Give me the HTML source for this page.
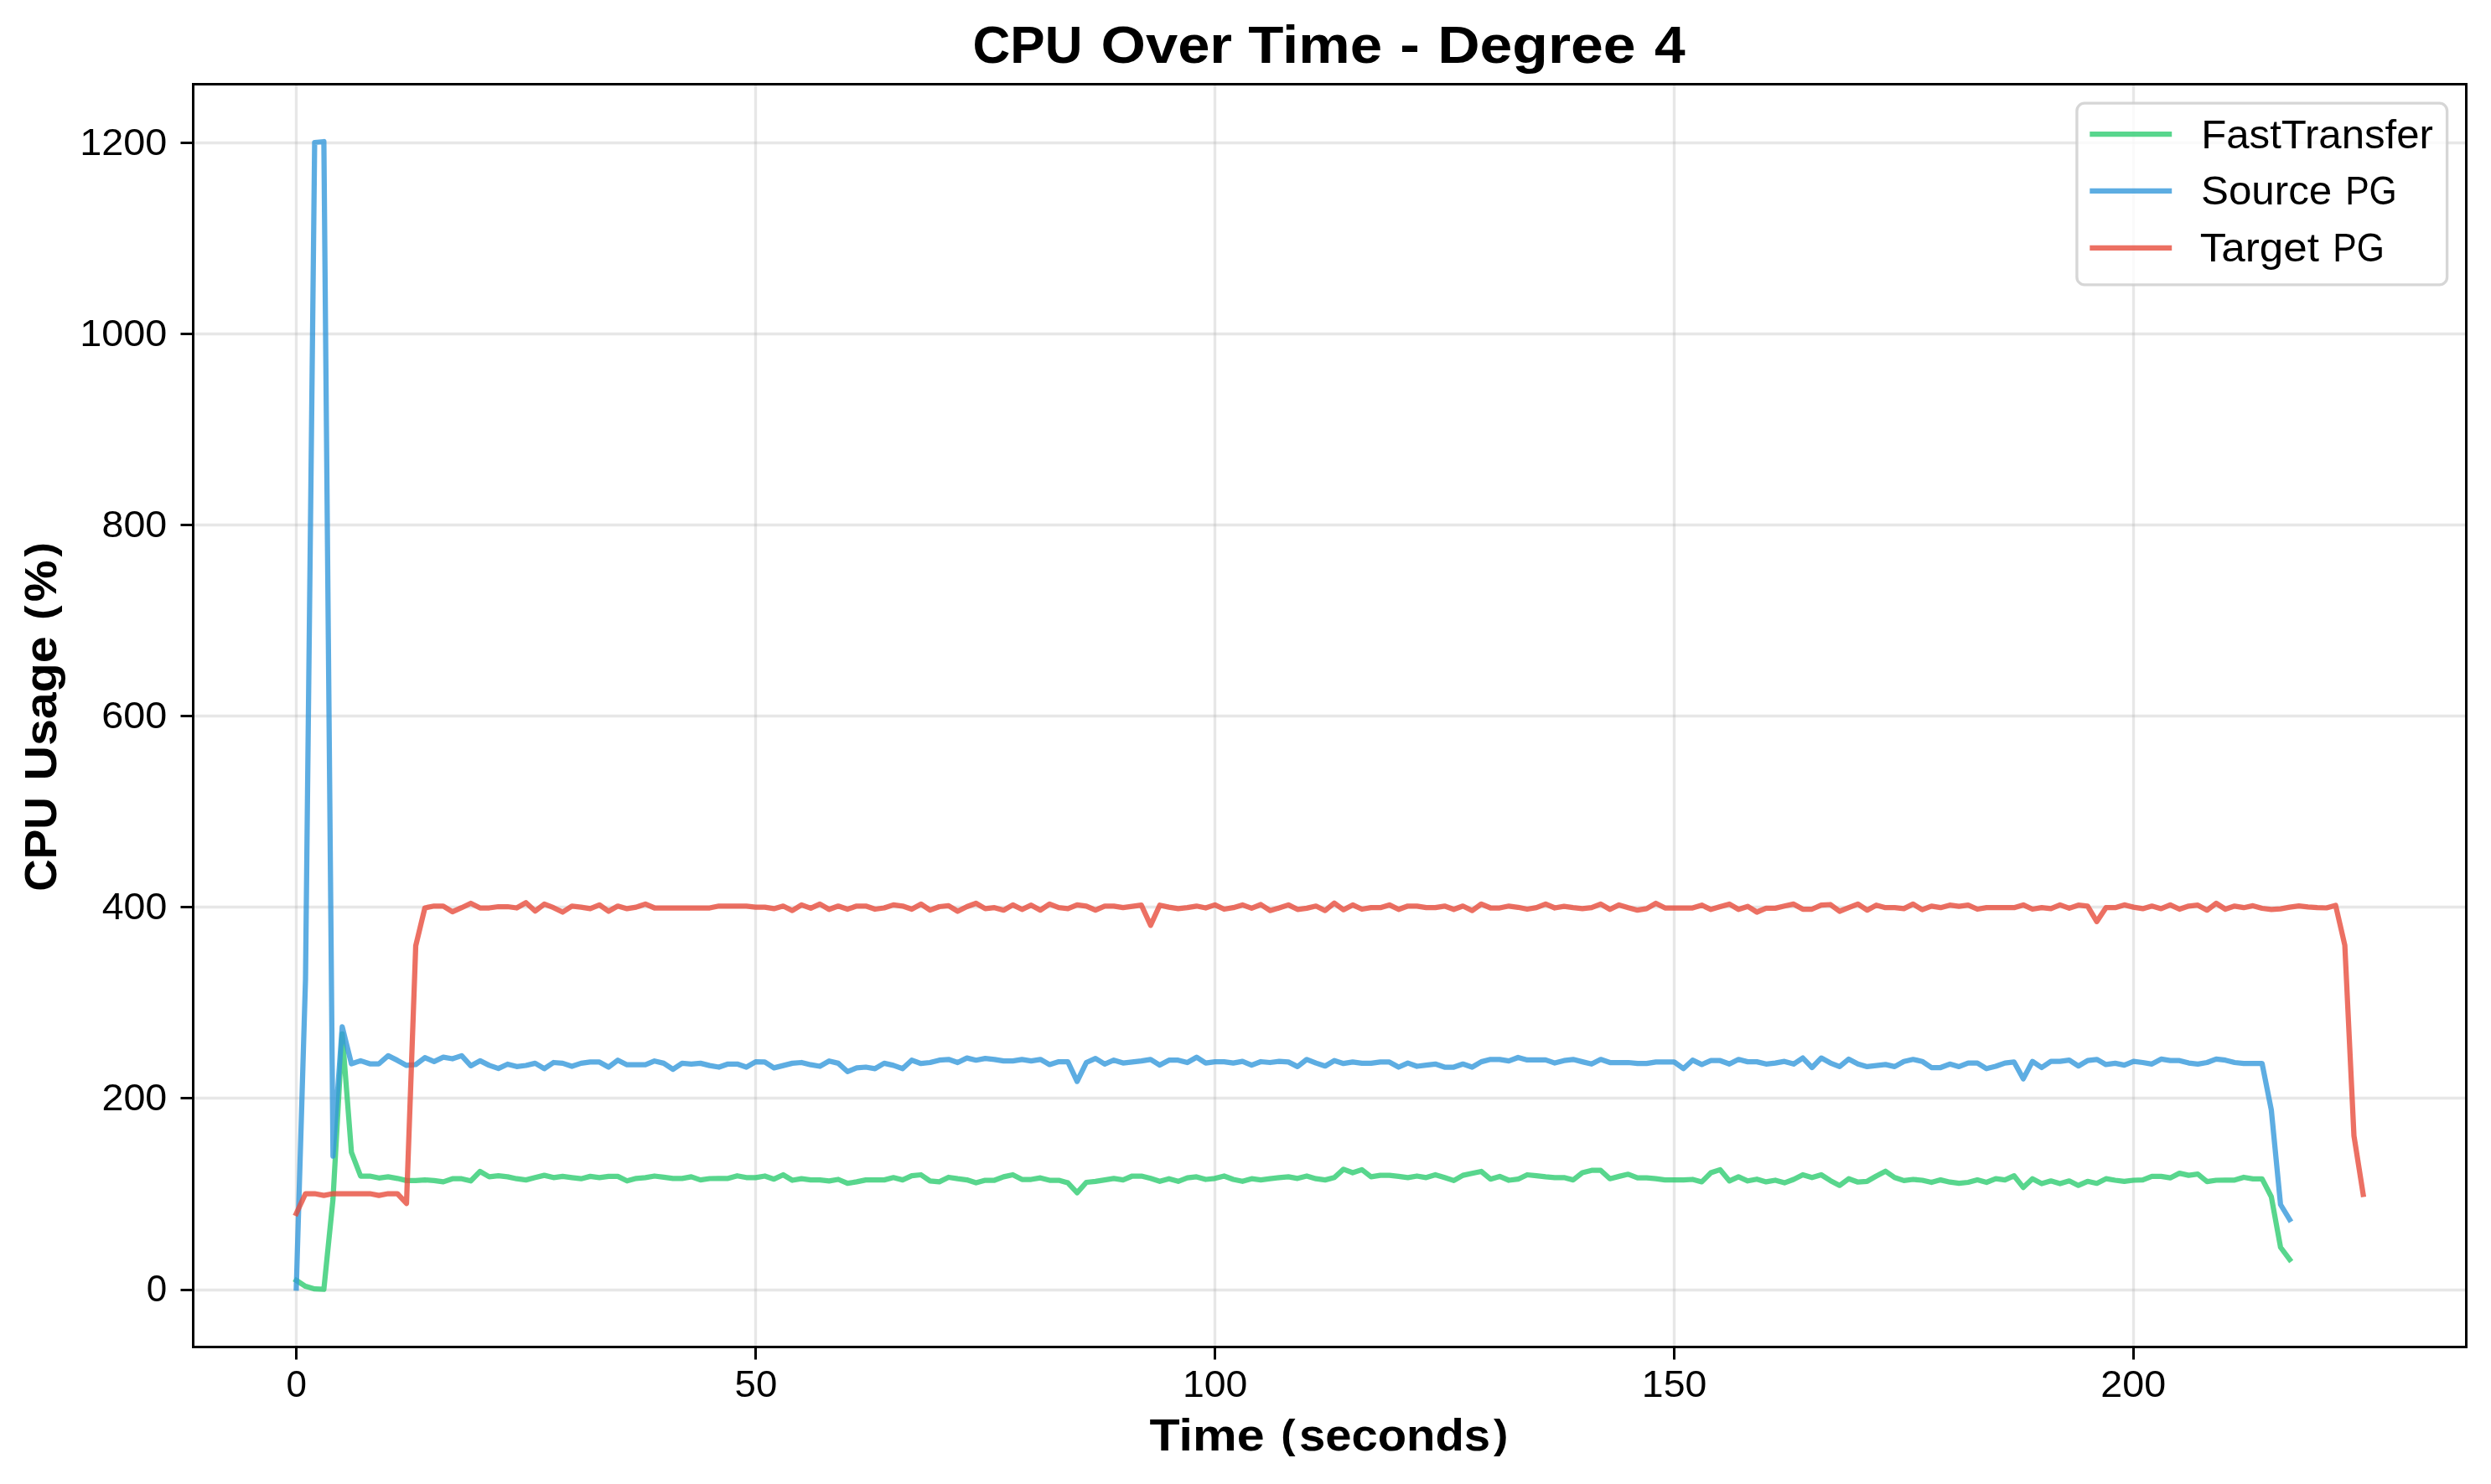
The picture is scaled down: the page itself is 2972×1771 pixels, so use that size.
<!DOCTYPE html>
<html><head><meta charset="utf-8"><title>CPU Over Time - Degree 4</title><style>html,body{margin:0;padding:0;background:#fff;overflow:hidden}svg{display:block;will-change:transform}text{font-family:"Liberation Sans",sans-serif;fill:#000}</style></head><body>
<svg width="2972" height="1771" viewBox="0 0 2972 1771">
<rect x="0" y="0" width="2972" height="1771" fill="#fff"/>
<defs><clipPath id="ax"><rect x="230.50" y="100.50" width="2712.00" height="1507.00"/></clipPath></defs>
<g fill="none" stroke="#b0b0b0" stroke-opacity="0.3" stroke-width="3.333"><path d="M230.5 1539.5H2942.5"/><path d="M230.5 1310.5H2942.5"/><path d="M230.5 1082.5H2942.5"/><path d="M230.5 854.5H2942.5"/><path d="M230.5 626.5H2942.5"/><path d="M230.5 398.5H2942.5"/><path d="M230.5 170.5H2942.5"/><path d="M353.5 100.5V1607.5"/><path d="M901.5 100.5V1607.5"/><path d="M1449.5 100.5V1607.5"/><path d="M1997.5 100.5V1607.5"/><path d="M2545.5 100.5V1607.5"/></g>
<g clip-path="url(#ax)" fill="none" stroke-width="6.25" stroke-linejoin="round" stroke-linecap="square" stroke-opacity="0.8">
<path d="M353.5 1528.0 L364.5 1535.1 L375.4 1538.2 L386.4 1538.7 L397.3 1431.1 L408.3 1233.8 L419.3 1375.2 L430.2 1403.5 L441.2 1403.5 L452.1 1405.8 L463.1 1404.4 L474.1 1406.3 L485.0 1408.9 L496.0 1408.9 L506.9 1408.1 L517.9 1408.9 L528.9 1410.4 L539.8 1406.7 L550.8 1406.7 L561.7 1409.3 L572.7 1398.0 L583.7 1404.4 L594.6 1403.2 L605.6 1404.4 L616.5 1406.7 L627.5 1408.1 L638.5 1405.3 L649.4 1402.6 L660.4 1405.3 L671.3 1403.9 L682.3 1405.3 L693.3 1406.7 L704.2 1403.9 L715.2 1405.3 L726.1 1403.9 L737.1 1403.9 L748.1 1409.3 L759.0 1406.3 L770.0 1405.3 L780.9 1403.5 L791.9 1404.9 L802.9 1406.3 L813.8 1406.3 L824.8 1404.4 L835.7 1408.1 L846.7 1406.5 L857.7 1406.3 L868.6 1406.3 L879.6 1403.2 L890.5 1405.3 L901.5 1405.3 L912.5 1403.5 L923.4 1407.2 L934.4 1402.0 L945.3 1408.5 L956.3 1406.7 L967.3 1408.1 L978.2 1408.1 L989.2 1409.3 L1000.1 1407.5 L1011.1 1412.2 L1022.1 1410.4 L1033.0 1408.1 L1044.0 1408.1 L1054.9 1408.1 L1065.9 1405.3 L1076.9 1408.1 L1087.8 1403.2 L1098.8 1402.0 L1109.7 1409.3 L1120.7 1410.4 L1131.7 1405.0 L1142.6 1406.7 L1153.6 1408.1 L1164.5 1411.6 L1175.5 1408.5 L1186.5 1408.5 L1197.4 1404.4 L1208.4 1402.0 L1219.3 1407.5 L1230.3 1407.5 L1241.3 1405.7 L1252.2 1408.5 L1263.2 1408.5 L1274.1 1411.6 L1285.1 1423.4 L1296.1 1411.0 L1307.0 1409.8 L1318.0 1408.1 L1328.9 1406.3 L1339.9 1408.1 L1350.9 1403.5 L1361.8 1403.5 L1372.8 1406.3 L1383.7 1409.8 L1394.7 1406.7 L1405.7 1409.8 L1416.6 1405.7 L1427.6 1404.4 L1438.5 1407.5 L1449.5 1406.3 L1460.5 1403.5 L1471.4 1407.5 L1482.4 1409.8 L1493.3 1406.7 L1504.3 1408.1 L1515.3 1406.7 L1526.2 1405.3 L1537.2 1404.4 L1548.1 1406.3 L1559.1 1403.5 L1570.1 1406.7 L1581.0 1408.1 L1592.0 1405.3 L1602.9 1395.4 L1613.9 1399.5 L1624.9 1395.9 L1635.8 1404.4 L1646.8 1402.6 L1657.7 1402.6 L1668.7 1403.9 L1679.7 1405.3 L1690.6 1403.5 L1701.6 1405.3 L1712.5 1402.0 L1723.5 1405.3 L1734.5 1408.9 L1745.4 1402.6 L1756.4 1400.2 L1767.3 1398.0 L1778.3 1407.2 L1789.3 1403.9 L1800.2 1408.5 L1811.2 1407.2 L1822.1 1402.0 L1833.1 1403.2 L1844.1 1404.4 L1855.0 1405.3 L1866.0 1405.3 L1876.9 1408.1 L1887.9 1399.5 L1898.9 1396.7 L1909.8 1396.7 L1920.8 1406.7 L1931.7 1403.9 L1942.7 1401.3 L1953.7 1405.7 L1964.6 1405.7 L1975.6 1406.7 L1986.5 1408.1 L1997.5 1408.1 L2008.5 1408.1 L2019.4 1407.5 L2030.4 1410.4 L2041.3 1399.5 L2052.3 1395.9 L2063.3 1409.3 L2074.2 1404.4 L2085.2 1409.3 L2096.1 1407.2 L2107.1 1410.4 L2118.1 1408.5 L2129.0 1411.6 L2140.0 1407.5 L2150.9 1402.0 L2161.9 1405.3 L2172.9 1402.0 L2183.8 1408.9 L2194.8 1414.7 L2205.7 1406.7 L2216.7 1410.7 L2227.7 1409.8 L2238.6 1403.5 L2249.6 1397.7 L2260.5 1405.3 L2271.5 1408.9 L2282.5 1407.5 L2293.4 1408.5 L2304.4 1411.0 L2315.3 1408.1 L2326.3 1410.7 L2337.3 1412.2 L2348.2 1411.0 L2359.2 1408.1 L2370.1 1411.0 L2381.1 1406.7 L2392.1 1408.1 L2403.0 1403.2 L2414.0 1417.1 L2424.9 1406.7 L2435.9 1412.5 L2446.9 1409.3 L2457.8 1412.5 L2468.8 1409.3 L2479.7 1414.7 L2490.7 1409.8 L2501.7 1412.2 L2512.6 1406.7 L2523.6 1408.5 L2534.5 1409.8 L2545.5 1408.5 L2556.5 1408.1 L2567.4 1403.9 L2578.4 1403.9 L2589.3 1405.7 L2600.3 1400.1 L2611.3 1402.6 L2622.2 1401.2 L2633.2 1410.2 L2644.1 1408.5 L2655.1 1408.3 L2666.1 1408.3 L2677.0 1405.0 L2688.0 1406.9 L2698.9 1406.9 L2709.9 1428.2 L2720.9 1488.5 L2731.8 1503.1" stroke="#2ecc71"/>
<path d="M353.5 1537.2 L364.5 1168.7 L375.4 170.0 L386.4 169.0 L397.3 1379.6 L408.3 1225.4 L419.3 1269.5 L430.2 1265.9 L441.2 1269.5 L452.1 1269.5 L463.1 1259.9 L474.1 1265.4 L485.0 1271.4 L496.0 1270.5 L506.9 1262.2 L517.9 1266.8 L528.9 1261.7 L539.8 1263.5 L550.8 1259.9 L561.7 1271.9 L572.7 1265.9 L583.7 1271.4 L594.6 1275.1 L605.6 1270.0 L616.5 1272.8 L627.5 1271.5 L638.5 1268.9 L649.4 1275.3 L660.4 1268.0 L671.3 1268.9 L682.3 1272.5 L693.3 1268.9 L704.2 1267.4 L715.2 1267.4 L726.1 1273.5 L737.1 1265.2 L748.1 1270.7 L759.0 1270.7 L770.0 1270.7 L780.9 1266.2 L791.9 1268.9 L802.9 1276.1 L813.8 1268.9 L824.8 1269.8 L835.7 1268.9 L846.7 1271.6 L857.7 1273.5 L868.6 1269.8 L879.6 1269.8 L890.5 1273.5 L901.5 1267.1 L912.5 1267.4 L923.4 1274.4 L934.4 1271.6 L945.3 1268.9 L956.3 1268.0 L967.3 1270.7 L978.2 1272.5 L989.2 1266.2 L1000.1 1268.9 L1011.1 1278.8 L1022.1 1274.4 L1033.0 1273.5 L1044.0 1275.3 L1054.9 1268.9 L1065.9 1271.4 L1076.9 1275.3 L1087.8 1265.2 L1098.8 1269.2 L1109.7 1268.0 L1120.7 1265.2 L1131.7 1264.3 L1142.6 1268.0 L1153.6 1262.6 L1164.5 1265.2 L1175.5 1263.1 L1186.5 1264.3 L1197.4 1266.2 L1208.4 1266.2 L1219.3 1264.3 L1230.3 1266.2 L1241.3 1264.3 L1252.2 1270.4 L1263.2 1267.1 L1274.1 1267.1 L1285.1 1290.6 L1296.1 1268.0 L1307.0 1263.1 L1318.0 1269.8 L1328.9 1265.2 L1339.9 1268.6 L1350.9 1267.4 L1361.8 1266.2 L1372.8 1264.3 L1383.7 1271.1 L1394.7 1265.2 L1405.7 1265.2 L1416.6 1268.0 L1427.6 1261.7 L1438.5 1268.6 L1449.5 1267.1 L1460.5 1267.1 L1471.4 1268.6 L1482.4 1266.7 L1493.3 1271.1 L1504.3 1267.0 L1515.3 1268.0 L1526.2 1266.7 L1537.2 1267.4 L1548.1 1272.9 L1559.1 1264.3 L1570.1 1268.6 L1581.0 1272.2 L1592.0 1265.7 L1602.9 1269.2 L1613.9 1267.4 L1624.9 1268.9 L1635.8 1268.9 L1646.8 1267.4 L1657.7 1267.4 L1668.7 1273.5 L1679.7 1268.6 L1690.6 1272.5 L1701.6 1271.1 L1712.5 1269.8 L1723.5 1273.5 L1734.5 1273.5 L1745.4 1269.8 L1756.4 1273.5 L1767.3 1267.1 L1778.3 1264.3 L1789.3 1264.3 L1800.2 1266.2 L1811.2 1262.0 L1822.1 1264.9 L1833.1 1264.9 L1844.1 1264.9 L1855.0 1268.6 L1866.0 1265.7 L1876.9 1264.3 L1887.9 1267.1 L1898.9 1269.8 L1909.8 1264.3 L1920.8 1268.0 L1931.7 1268.0 L1942.7 1268.0 L1953.7 1269.2 L1964.6 1269.2 L1975.6 1267.4 L1986.5 1267.4 L1997.5 1267.4 L2008.5 1275.3 L2019.4 1265.2 L2030.4 1270.4 L2041.3 1265.7 L2052.3 1265.7 L2063.3 1269.8 L2074.2 1264.3 L2085.2 1267.1 L2096.1 1267.1 L2107.1 1269.8 L2118.1 1268.6 L2129.0 1266.7 L2140.0 1269.8 L2150.9 1262.6 L2161.9 1274.0 L2172.9 1262.6 L2183.8 1268.6 L2194.8 1272.9 L2205.7 1263.9 L2216.7 1269.8 L2227.7 1272.9 L2238.6 1271.6 L2249.6 1270.4 L2260.5 1272.9 L2271.5 1266.7 L2282.5 1264.3 L2293.4 1266.7 L2304.4 1274.0 L2315.3 1274.0 L2326.3 1269.8 L2337.3 1272.9 L2348.2 1268.6 L2359.2 1268.6 L2370.1 1275.3 L2381.1 1272.5 L2392.1 1268.6 L2403.0 1267.4 L2414.0 1287.4 L2424.9 1266.7 L2435.9 1274.0 L2446.9 1266.7 L2457.8 1266.7 L2468.8 1265.2 L2479.7 1272.2 L2490.7 1265.7 L2501.7 1264.3 L2512.6 1270.4 L2523.6 1268.9 L2534.5 1271.1 L2545.5 1266.7 L2556.5 1268.0 L2567.4 1269.8 L2578.4 1263.9 L2589.3 1265.7 L2600.3 1265.7 L2611.3 1268.6 L2622.2 1269.8 L2633.2 1268.0 L2644.1 1263.9 L2655.1 1265.2 L2666.1 1268.0 L2677.0 1269.2 L2688.0 1269.2 L2698.9 1269.2 L2709.9 1324.6 L2720.9 1437.5 L2731.8 1455.5" stroke="#3498db"/>
<path d="M353.5 1448.2 L364.5 1424.5 L375.4 1424.5 L386.4 1426.6 L397.3 1424.5 L408.3 1424.5 L419.3 1424.5 L430.2 1424.5 L441.2 1424.5 L452.1 1426.6 L463.1 1424.5 L474.1 1424.5 L485.0 1436.1 L496.0 1128.8 L506.9 1083.5 L517.9 1081.3 L528.9 1081.3 L539.8 1088.1 L550.8 1083.2 L561.7 1078.0 L572.7 1083.5 L583.7 1083.5 L594.6 1082.0 L605.6 1082.0 L616.5 1083.5 L627.5 1077.2 L638.5 1087.2 L649.4 1078.9 L660.4 1083.2 L671.3 1088.5 L682.3 1081.3 L693.3 1082.6 L704.2 1084.4 L715.2 1079.9 L726.1 1087.5 L737.1 1081.3 L748.1 1084.4 L759.0 1082.6 L770.0 1078.9 L780.9 1083.5 L791.9 1083.5 L802.9 1083.5 L813.8 1083.5 L824.8 1083.5 L835.7 1083.5 L846.7 1083.5 L857.7 1081.3 L868.6 1081.3 L879.6 1081.3 L890.5 1081.3 L901.5 1082.6 L912.5 1082.6 L923.4 1084.4 L934.4 1081.3 L945.3 1086.7 L956.3 1079.9 L967.3 1083.9 L978.2 1078.9 L989.2 1085.3 L1000.1 1081.3 L1011.1 1085.0 L1022.1 1081.3 L1033.0 1081.3 L1044.0 1085.0 L1054.9 1083.5 L1065.9 1079.9 L1076.9 1081.3 L1087.8 1085.0 L1098.8 1078.9 L1109.7 1086.2 L1120.7 1082.0 L1131.7 1080.8 L1142.6 1087.5 L1153.6 1082.0 L1164.5 1078.0 L1175.5 1084.4 L1186.5 1083.2 L1197.4 1086.2 L1208.4 1079.9 L1219.3 1085.3 L1230.3 1080.2 L1241.3 1086.2 L1252.2 1078.9 L1263.2 1083.2 L1274.1 1084.4 L1285.1 1079.9 L1296.1 1081.3 L1307.0 1086.2 L1318.0 1081.3 L1328.9 1081.3 L1339.9 1083.2 L1350.9 1081.7 L1361.8 1080.2 L1372.8 1104.3 L1383.7 1080.2 L1394.7 1082.6 L1405.7 1084.4 L1416.6 1083.2 L1427.6 1081.3 L1438.5 1083.5 L1449.5 1079.9 L1460.5 1085.0 L1471.4 1083.2 L1482.4 1079.9 L1493.3 1083.9 L1504.3 1079.5 L1515.3 1086.7 L1526.2 1083.5 L1537.2 1079.9 L1548.1 1085.3 L1559.1 1083.9 L1570.1 1081.3 L1581.0 1086.7 L1592.0 1077.7 L1602.9 1085.7 L1613.9 1079.9 L1624.9 1085.0 L1635.8 1083.2 L1646.8 1083.2 L1657.7 1079.9 L1668.7 1085.3 L1679.7 1081.3 L1690.6 1081.3 L1701.6 1083.2 L1712.5 1083.2 L1723.5 1081.3 L1734.5 1085.3 L1745.4 1081.3 L1756.4 1086.7 L1767.3 1078.9 L1778.3 1083.5 L1789.3 1083.5 L1800.2 1081.3 L1811.2 1082.8 L1822.1 1085.0 L1833.1 1083.2 L1844.1 1078.9 L1855.0 1083.5 L1866.0 1081.7 L1876.9 1083.2 L1887.9 1084.4 L1898.9 1083.2 L1909.8 1078.9 L1920.8 1085.3 L1931.7 1079.9 L1942.7 1083.2 L1953.7 1086.2 L1964.6 1084.4 L1975.6 1078.0 L1986.5 1083.5 L1997.5 1083.5 L2008.5 1083.5 L2019.4 1083.5 L2030.4 1080.2 L2041.3 1085.3 L2052.3 1082.0 L2063.3 1078.9 L2074.2 1085.3 L2085.2 1081.7 L2096.1 1088.5 L2107.1 1083.9 L2118.1 1083.9 L2129.0 1081.3 L2140.0 1078.9 L2150.9 1085.0 L2161.9 1085.0 L2172.9 1080.2 L2183.8 1079.5 L2194.8 1087.5 L2205.7 1083.2 L2216.7 1078.9 L2227.7 1086.2 L2238.6 1080.2 L2249.6 1083.2 L2260.5 1083.2 L2271.5 1084.4 L2282.5 1078.9 L2293.4 1085.7 L2304.4 1081.3 L2315.3 1083.2 L2326.3 1080.2 L2337.3 1081.7 L2348.2 1080.2 L2359.2 1085.0 L2370.1 1083.2 L2381.1 1083.2 L2392.1 1083.2 L2403.0 1083.2 L2414.0 1079.9 L2424.9 1085.0 L2435.9 1083.2 L2446.9 1084.4 L2457.8 1079.9 L2468.8 1083.9 L2479.7 1080.2 L2490.7 1081.3 L2501.7 1099.8 L2512.6 1083.2 L2523.6 1083.2 L2534.5 1079.9 L2545.5 1082.6 L2556.5 1084.4 L2567.4 1081.3 L2578.4 1084.4 L2589.3 1079.9 L2600.3 1085.0 L2611.3 1081.3 L2622.2 1080.2 L2633.2 1086.2 L2644.1 1078.0 L2655.1 1085.0 L2666.1 1081.3 L2677.0 1083.2 L2688.0 1080.9 L2698.9 1084.0 L2709.9 1085.4 L2720.9 1084.6 L2731.8 1082.7 L2742.8 1081.1 L2753.7 1082.3 L2764.7 1083.2 L2775.7 1083.5 L2786.6 1080.4 L2797.6 1128.1 L2808.5 1355.5 L2819.5 1425.4" stroke="#e74c3c"/>
</g>
<rect x="230.5" y="100.5" width="2712.0" height="1507.0" fill="none" stroke="#000" stroke-width="3" stroke-linejoin="miter"/>
<path d="M230.5 1539.5H215.50M230.5 1310.5H215.50M230.5 1082.5H215.50M230.5 854.5H215.50M230.5 626.5H215.50M230.5 398.5H215.50M230.5 170.5H215.50M353.5 1607.5V1622.50M901.5 1607.5V1622.50M1449.5 1607.5V1622.50M1997.5 1607.5V1622.50M2545.5 1607.5V1622.50" stroke="#000" stroke-width="3" fill="none"/>
<rect x="2477.9" y="123.2" width="441.70" height="216.60" rx="9.17" ry="9.17" fill="#fff" fill-opacity="0.8" stroke="#cccccc" stroke-opacity="0.8" stroke-width="3.333"/>
<path d="M2496.42 160.00H2588.08" stroke="#2ecc71" stroke-opacity="0.8" stroke-width="6.25" stroke-linecap="square"/>
<path d="M2496.42 227.90H2588.08" stroke="#3498db" stroke-opacity="0.8" stroke-width="6.25" stroke-linecap="square"/>
<path d="M2496.42 295.80H2588.08" stroke="#e74c3c" stroke-opacity="0.8" stroke-width="6.25" stroke-linecap="square"/>
<text transform="matrix(0.98692 0 0 1 1160.52 75.00)" font-size="62.84" font-weight="bold">CPU</text><text transform="matrix(1.09328 0 0 1 1313.49 75.00)" font-size="62.84" font-weight="bold">Over</text><text transform="matrix(1.09953 0 0 1 1489.17 75.00)" font-size="62.84" font-weight="bold">Time</text><text transform="matrix(1.12696 0 0 1 1670.35 75.00)" font-size="62.84" font-weight="bold">-</text><text transform="matrix(1.10977 0 0 1 1715.19 75.00)" font-size="62.84" font-weight="bold">Degree</text><text transform="matrix(1.04940 0 0 1 1974.12 75.00)" font-size="62.84" font-weight="bold">4</text><text transform="matrix(1.11712 0 0 1 1371.48 1731.00)" font-size="53.02" font-weight="bold">Time</text><text transform="matrix(1.08850 0 0 1 1528.19 1727.68)" font-size="47.75" font-weight="bold">(</text><text transform="matrix(1.06085 0 0 1 1549.96 1731.00)" font-size="53.02" font-weight="bold">seconds</text><text transform="matrix(1.08792 0 0 1 1782.03 1727.68)" font-size="47.75" font-weight="bold">)</text><text transform="matrix(0 -1.00271 1 0 67.00 1063.63)" font-size="53.02" font-weight="bold">CPU</text><text transform="matrix(0 -1.08200 1 0 67.00 931.49)" font-size="53.02" font-weight="bold">Usage</text><text transform="matrix(0 -1.08850 1 0 63.68 739.74)" font-size="47.75" font-weight="bold">(</text><text transform="matrix(0 -1.05621 1 0 67.00 718.37)" font-size="53.02" font-weight="bold">%</text><text transform="matrix(0 -1.08792 1 0 63.68 664.61)" font-size="47.75" font-weight="bold">)</text><text transform="matrix(0.99523 0 0 1 174.74 1553.49)" font-size="44.18">0</text><text transform="matrix(1.05590 0 0 1 121.46 1325.44)" font-size="44.18">200</text><text transform="matrix(1.05213 0 0 1 121.73 1097.39)" font-size="44.18">400</text><text transform="matrix(1.05795 0 0 1 121.31 869.34)" font-size="44.18">600</text><text transform="matrix(1.05416 0 0 1 121.58 641.30)" font-size="44.18">800</text><text transform="matrix(1.05870 0 0 1 95.30 413.25)" font-size="44.18">1000</text><text transform="matrix(1.05870 0 0 1 95.30 185.20)" font-size="44.18">1200</text><text transform="matrix(0.99523 0 0 1 341.52 1667.00)" font-size="44.18">0</text><text transform="matrix(1.03111 0 0 1 876.57 1667.00)" font-size="44.18">50</text><text transform="matrix(1.05070 0 0 1 1410.93 1667.00)" font-size="44.18">100</text><text transform="matrix(1.05070 0 0 1 1958.83 1667.00)" font-size="44.18">150</text><text transform="matrix(1.05590 0 0 1 2506.35 1667.00)" font-size="44.18">200</text><text transform="matrix(1.01119 0 0 1 2626.24 177.00)" font-size="48.60">FastTransfer</text><text transform="matrix(1.01500 0 0 1 2626.00 243.80)" font-size="48.60">Source</text><text transform="matrix(0.87731 0 0 1 2798.14 243.80)" font-size="48.60">PG</text><text transform="matrix(1.05396 0 0 1 2624.71 312.00)" font-size="48.60">Target</text><text transform="matrix(0.87731 0 0 1 2783.37 312.00)" font-size="48.60">PG</text>
</svg></body></html>
